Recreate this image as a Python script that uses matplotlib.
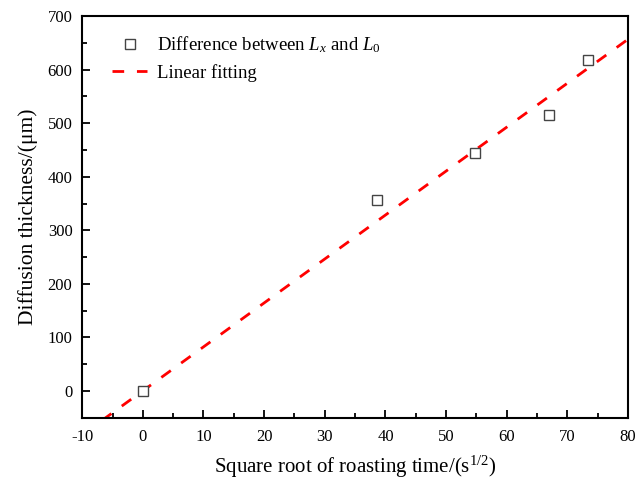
import numpy as np
import matplotlib
matplotlib.use('Agg')
import matplotlib.pyplot as plt
from matplotlib.ticker import MultipleLocator

plt.rcParams['font.family'] = ['Liberation Serif', 'DejaVu Serif']
plt.rcParams['mathtext.fontset'] = 'custom'
plt.rcParams['mathtext.rm'] = 'Liberation Serif'
plt.rcParams['mathtext.it'] = 'Liberation Serif:italic'
plt.rcParams['axes.unicode_minus'] = False

sqrt_time = [0.0, 38.6, 54.7, 67.0, 73.4]
thickness = [0.0, 356.0, 444.0, 516.0, 617.0]

# fitted line
fit_slope = 8.2
fit_intercept = 0.5
fit_x = [-10.0, 80.0]

fig = plt.figure(figsize=(6.37, 4.82), dpi=100)
ax = fig.add_axes([0.129, 0.133, 0.857, 0.834])

fx = np.array(fit_x)
ax.plot(fx, fit_slope * fx + fit_intercept, color='#ff0000', lw=2.0,
        linestyle=(0, (4.2, 4.6)), label='Linear fitting', zorder=2)
ax.plot(sqrt_time, thickness, linestyle='none', marker='s', markersize=7,
        markerfacecolor='white', markeredgecolor='#444444', markeredgewidth=1.0,
        label='Difference between $L_x$ and $L_0$', zorder=3)

ax.set_xlim(-10, 80)
ax.set_ylim(-50, 700)
ax.xaxis.set_major_locator(MultipleLocator(10))
ax.xaxis.set_minor_locator(MultipleLocator(5))
ax.yaxis.set_major_locator(MultipleLocator(100))
ax.yaxis.set_minor_locator(MultipleLocator(50))
ax.tick_params(which='both', direction='in', top=False, right=False, labelsize=12, width=1.3)
ax.tick_params(which='major', length=6)
ax.tick_params(which='minor', length=3.5)
ax.tick_params(axis='x', pad=8)
ax.tick_params(axis='y', pad=7)
for s in ax.spines.values():
    s.set_linewidth(1.5)

ax.set_xlabel('Square root of roasting time/(s$^{1/2}$)', fontsize=15, labelpad=6)
ax.set_ylabel('Diffusion thickness/(\u03bcm)', fontsize=15.5, labelpad=7)

handles, labels = ax.get_legend_handles_labels()
ax.legend(handles[::-1], labels[::-1], loc='upper left', frameon=False, fontsize=13.5,
          handlelength=1.9, handletextpad=0.5, borderaxespad=0.6, labelspacing=0.45,
          bbox_to_anchor=(0.02, 1.0))

fig.savefig('out.png', dpi=100)
